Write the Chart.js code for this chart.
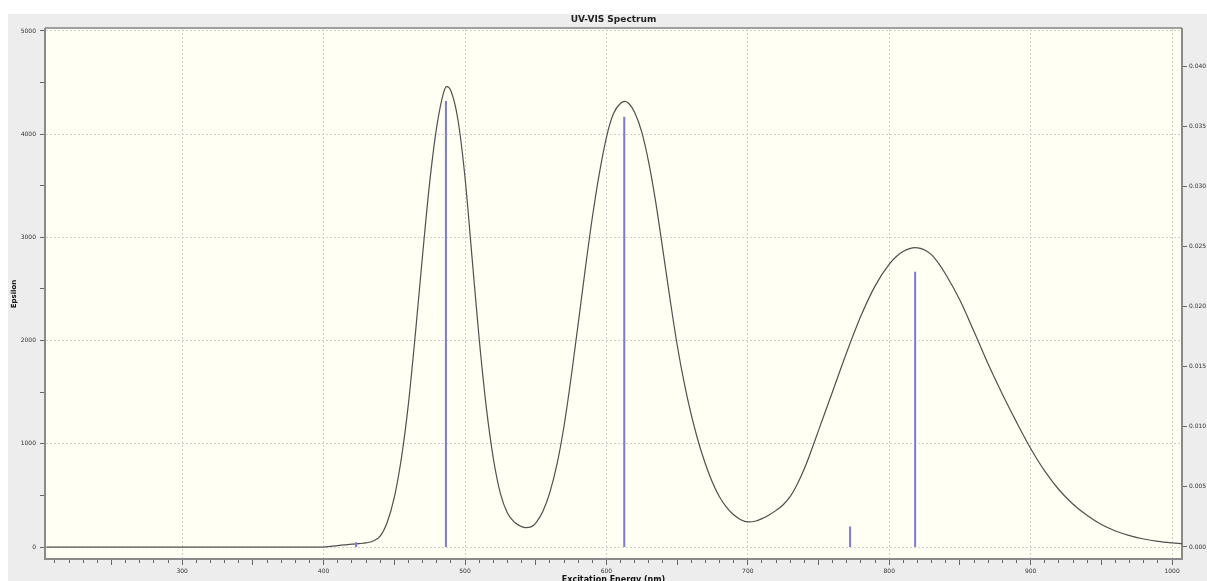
<!DOCTYPE html>
<html>
<head>
<meta charset="utf-8">
<script src="https://cdn.jsdelivr.net/npm/chart.js@4.4.1/dist/chart.umd.min.js"></script>
<style>
  html, body { margin: 0; padding: 0; background: #fff; }
  #wrap { width: 1207px; height: 581px; position: relative; }
</style>
</head>
<body>
<div id="wrap"><canvas id="myChart"></canvas></div>
<script>
// spectrum (nm, epsilon)
const wavelengths = [204, 250, 300, 350, 400, 405, 410, 415, 420, 425, 430, 435, 440, 445, 450, 455, 460, 465, 470, 475,
  480, 485, 487, 490, 495, 500, 505, 510, 515, 520, 525, 530, 535, 540, 543, 547, 550, 555, 560, 565,
  570, 575, 580, 585, 590, 595, 600, 605, 610, 613, 616, 620, 625, 630, 635, 640, 645, 650, 655, 660,
  665, 670, 675, 680, 685, 690, 695, 700, 705, 710, 715, 720, 725, 730, 735, 740, 745, 750, 760, 770, 780, 790, 800,
  805, 810, 815, 818, 822, 826, 830, 835, 840, 850, 860, 870, 880, 890, 900, 910, 920, 930, 940, 950, 960, 970, 980, 990, 1000, 1007];
const epsilon = [0, 0, 0, 0, 0, 7, 14, 21, 28, 33, 40, 58, 105, 240, 480, 860, 1390, 2080, 2830, 3530,
  4070, 4410, 4460, 4420, 4140, 3580, 2800, 2020, 1360, 860, 520, 330, 240, 198, 188, 198, 232, 345, 530, 800,
  1170, 1640, 2160, 2690, 3190, 3620, 3970, 4200, 4300, 4318, 4295, 4210, 4020, 3720, 3330, 2870, 2400, 1960, 1590, 1280,
  1020, 805, 625, 485, 385, 312, 265, 244, 250, 275, 310, 355, 410, 490, 610, 760, 940, 1130, 1510, 1890, 2240, 2530, 2740,
  2815, 2865, 2893, 2900, 2893, 2870, 2830, 2745, 2640, 2390, 2085, 1770, 1480, 1210, 955, 735, 555, 415, 305, 218, 155, 110, 78, 55, 40, 32];

// excitations (nm, oscillator strength)
const stickNm = [423, 486.5, 612.6, 772.3, 818.3];
const stickF = [0.0004, 0.0371, 0.0358, 0.0017, 0.0229];

const xLabels = [300, 400, 500, 600, 700, 800, 900, 1000];
const yLabels = [0, 1000, 2000, 3000, 4000, 5000];
const y2Labels = [0, 0.005, 0.01, 0.015, 0.02, 0.025, 0.03, 0.035, 0.04];
const chartTitle = 'UV-VIS Spectrum';

const curve = wavelengths.map((nm, i) => ({ x: nm, y: epsilon[i] }));
const sticks = [];
stickNm.forEach((nm, i) => {
  sticks.push({ x: nm, y: 0 }, { x: nm, y: stickF[i] }, { x: nm, y: null });
});

// minor tick positions: every 10 nm, every 500 epsilon
const xTickValues = [];
for (let v = 210; v <= 1000; v += 10) xTickValues.push(v);
const yTickValues = [];
for (let v = 0; v <= 5000; v += 500) yTickValues.push(v);

const FONT = 'DejaVu Sans';
const none = 'rgba(0,0,0,0)';
const gridGray = '#d0d0d0';

const backdrop = {
  id: 'backdrop',
  beforeDraw(chart) {
    const { ctx, chartArea: a, width, height } = chart;
    ctx.save();
    ctx.fillStyle = '#ffffff';
    ctx.fillRect(0, 0, width, height);
    ctx.fillStyle = '#ededed';
    ctx.fillRect(8, 14, width - 8, height - 14);
    ctx.fillStyle = '#fffff4';
    ctx.fillRect(a.left, a.top, a.right - a.left, a.bottom - a.top);
    ctx.strokeStyle = '#a0a0a0';
    ctx.lineWidth = 2;
    ctx.beginPath();
    ctx.moveTo(a.left, a.top - 1);
    ctx.lineTo(a.right, a.top - 1);
    ctx.stroke();
    ctx.fillStyle = '#222';
    ctx.font = 'bold 9px "' + FONT + '"';
    ctx.textAlign = 'center';
    ctx.textBaseline = 'middle';
    ctx.fillText(chartTitle, (a.left + a.right) / 2, 20);
    ctx.restore();
  }
};

new Chart(document.getElementById('myChart'), {
  type: 'line',
  data: {
    datasets: [{
      data: sticks,
      yAxisID: 'y2',
      borderColor: '#7a7ad8',
      borderWidth: 2,
      pointRadius: 0,
      spanGaps: false,
      tension: 0
    }, {
      data: curve,
      yAxisID: 'y',
      borderColor: '#505050',
      borderWidth: 1.2,
      pointRadius: 0,
      cubicInterpolationMode: 'monotone'
    }]
  },
  options: {
    responsive: true,
    maintainAspectRatio: false,
    animation: false,
    layout: { padding: { top: 29, left: 0, right: 0, bottom: 0 } },
    plugins: { legend: { display: false }, tooltip: { enabled: false } },
    scales: {
      x: {
        type: 'linear', min: 203, max: 1007,
        afterFit(s) { s.height = 22; },
        afterBuildTicks(s) { s.ticks = xTickValues.map(v => ({ value: v })); },
        ticks: {
          autoSkip: false, maxRotation: 0, padding: 3,
          font: { family: FONT, size: 6 }, color: '#333',
          callback: v => xLabels.includes(v) ? String(v) : ''
        },
        grid: {
          color: c => (c.tick && xLabels.includes(c.tick.value)) ? gridGray : none,
          tickColor: '#666', tickLength: 6,
          tickBorderDash: c => {
            const v = c.tick ? c.tick.value : 0;
            if (v % 100 === 0) return [];
            if (v % 50 === 0) return [5, 20];
            return [3, 20];
          }
        },
        border: { color: '#8a8a8a', width: 2, dash: [2, 2] },
        title: {
          display: true, text: 'Excitation Energy (nm)', color: '#111',
          font: { family: FONT, size: 8, weight: 'bold', lineHeight: 1 },
          padding: { top: 0, bottom: -3 }
        }
      },
      y: {
        type: 'linear', position: 'left', min: -116, max: 5019,
        afterFit(s) { s.width = 45; },
        afterBuildTicks(s) { s.ticks = yTickValues.map(v => ({ value: v })); },
        ticks: {
          autoSkip: false, padding: 4,
          font: { family: FONT, size: 6 }, color: '#333',
          callback: v => yLabels.includes(v) ? String(v) : ''
        },
        grid: {
          color: c => (c.tick && yLabels.includes(c.tick.value)) ? gridGray : none,
          tickColor: '#666', tickLength: 5
        },
        border: { color: '#8a8a8a', width: 2, dash: [2, 2] },
        title: {
          display: true, text: 'Epsilon', color: '#111',
          font: { family: FONT, size: 7, weight: 'bold' },
          padding: { top: 10 }
        }
      },
      y2: {
        type: 'linear', position: 'right', min: -0.001, max: 0.0431,
        afterFit(s) { s.width = 25; },
        afterBuildTicks(s) { s.ticks = y2Labels.map(v => ({ value: v })); },
        ticks: {
          autoSkip: false, padding: 2,
          font: { family: FONT, size: 6 }, color: '#333',
          callback: v => v.toFixed(3)
        },
        grid: { drawOnChartArea: false, tickColor: '#666', tickLength: 5 },
        border: { color: '#8a8a8a', width: 2 }
      }
    }
  },
  plugins: [backdrop]
});
</script>
</body>
</html>
